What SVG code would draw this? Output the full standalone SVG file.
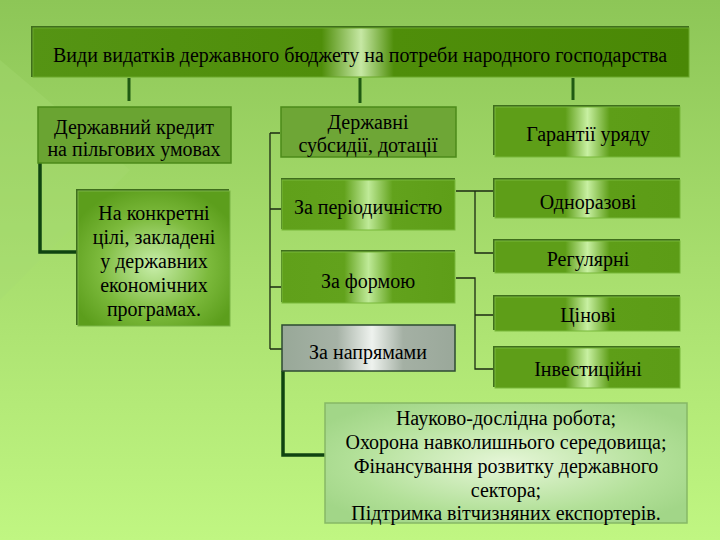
<svg xmlns="http://www.w3.org/2000/svg" width="720" height="540" viewBox="0 0 720 540" font-family="Liberation Serif">
<defs>
<linearGradient id="bg" x1="0" y1="0" x2="0" y2="1">
<stop offset="0" stop-color="#8dc657"/>
<stop offset="0.5" stop-color="#a8de6e"/>
<stop offset="1" stop-color="#c0f682"/>
</linearGradient>
<linearGradient id="gTitle" x1="0" y1="0" x2="1" y2="0">
<stop offset="0" stop-color="#559414"/>
<stop offset="0.44" stop-color="#4f8e0a"/>
<stop offset="0.5" stop-color="#c6e8a4"/>
<stop offset="0.55" stop-color="#4f8e0a"/>
<stop offset="1" stop-color="#4a8806"/>
</linearGradient>
<linearGradient id="gBox" x1="0" y1="0" x2="1" y2="0">
<stop offset="0" stop-color="#5e9e18"/>
<stop offset="0.38" stop-color="#5e9e18"/>
<stop offset="0.5" stop-color="#c8f0a2"/>
<stop offset="0.62" stop-color="#5e9e18"/>
<stop offset="1" stop-color="#5c9c16"/>
</linearGradient>
<linearGradient id="gMid" x1="0" y1="0" x2="1" y2="0">
<stop offset="0" stop-color="#60a01a"/>
<stop offset="0.36" stop-color="#62a21c"/>
<stop offset="0.5" stop-color="#bfea98"/>
<stop offset="0.64" stop-color="#62a21c"/>
<stop offset="1" stop-color="#5e9e18"/>
</linearGradient>
<linearGradient id="gGray" x1="0" y1="0" x2="1" y2="0">
<stop offset="0" stop-color="#98a898"/>
<stop offset="0.32" stop-color="#a6b2a6"/>
<stop offset="0.52" stop-color="#eef2ee"/>
<stop offset="0.7" stop-color="#a4b0a4"/>
<stop offset="1" stop-color="#9aa89a"/>
</linearGradient>
<radialGradient id="gProg" cx="0.5" cy="0.55" r="0.6">
<stop offset="0" stop-color="#c8eeaa"/>
<stop offset="0.6" stop-color="#7cba3c"/>
<stop offset="1" stop-color="#5c9e1c"/>
</radialGradient>
<radialGradient id="gDir" cx="0.5" cy="0.5" r="0.6">
<stop offset="0" stop-color="#e6f6d8"/>
<stop offset="0.7" stop-color="#b2e098"/>
<stop offset="1" stop-color="#a2d688"/>
</radialGradient>
<style>
text{font-size:20px;fill:#000;text-anchor:middle}
.sh{fill:#3f6e1c}
.thick{stroke:#0f4410;stroke-width:3.5;fill:none}
.thin{stroke:#1b2a12;stroke-width:1.3;fill:none}
.stem{stroke:#1f5a12;stroke-width:3;fill:none}
</style>
</defs>
<rect width="720" height="540" fill="url(#bg)"/>
<path d="M0 60 L130 170 L0 300 Z" fill="#a6da72" opacity="0.35"/>

<g id="connectors">
<path class="stem" d="M129 78 V101 M360 78 V103 M573 78 V100"/>
<path class="thick" d="M40 163 V252 H77"/>
<path class="thick" d="M283 371 V455 H325"/>
<path class="thin" d="M270 133 V349 M270 133 H280 M270 209 H282 M270 287 H282 M270 349 H282"/>
<path class="thin" d="M456 191 H495 M475 191 V253 H495"/>
<path class="thin" d="M456 278 H475 V369 H495 M475 315 H495"/>
</g>

<g id="title" font-family="Liberation Serif">
<rect class="sh" x="31" y="26" width="658" height="51"/>
<rect x="33" y="28" width="656" height="49" fill="url(#gTitle)" stroke="#6aa82a" stroke-width="1"/>
<text x="360" y="62" font-size="19.5" textLength="614" lengthAdjust="spacingAndGlyphs">Види видатків державного бюджету на потреби народного господарства</text>
</g>

<g id="credit" font-family="Liberation Serif">
<rect x="38" y="107" width="193" height="56" fill="#6aa432" stroke="#4c8a1a" stroke-width="1.5"/>
<text x="134" y="134">Державний кредит</text>
<text x="134" y="156">на пільгових умовах</text>
</g>

<g id="programs" font-family="Liberation Serif">
<rect class="sh" x="76" y="189" width="153" height="136"/>
<rect x="78" y="191" width="152" height="135" fill="url(#gProg)" stroke="#7ab446" stroke-width="1"/>
<text x="154" y="220">На конкретні</text>
<text x="154" y="244">цілі, закладені</text>
<text x="154" y="268">у державних</text>
<text x="154" y="292">економічних</text>
<text x="154" y="316">програмах.</text>
</g>

<g id="subsidies" font-family="Liberation Serif">
<rect x="281" y="107" width="175" height="50" fill="#6ea636" stroke="#4c8a1a" stroke-width="1.5"/>
<text x="368" y="129">Державні</text>
<text x="368" y="152">субсидії, дотації</text>
</g>

<g id="periodicity" font-family="Liberation Serif">
<rect class="sh" x="281" y="178" width="174" height="51"/>
<rect x="282" y="180" width="173" height="50" fill="url(#gMid)" stroke="#78b83a" stroke-width="1"/>
<text x="368" y="214">За періодичністю</text>
</g>

<g id="form" font-family="Liberation Serif">
<rect class="sh" x="281" y="250" width="174" height="52"/>
<rect x="282" y="252" width="173" height="51" fill="url(#gMid)" stroke="#78b83a" stroke-width="1"/>
<text x="368" y="288">За формою</text>
</g>

<g id="directions" font-family="Liberation Serif">
<rect x="282" y="325" width="173" height="46" fill="url(#gGray)" stroke="#2c4a32" stroke-width="1.5"/>
<text x="368" y="359">За напрямами</text>
</g>

<g id="directions-list" font-family="Liberation Serif">
<rect x="325" y="403" width="362" height="120" fill="url(#gDir)" stroke="#86b866" stroke-width="1.5"/>
<text x="506" y="425">Науково-дослідна робота;</text>
<text x="506" y="449">Охорона навколишнього середовища;</text>
<text x="506" y="473">Фінансування розвитку державного</text>
<text x="506" y="497">сектора;</text>
<text x="506" y="520">Підтримка вітчизняних експортерів.</text>
</g>

<g id="guarantees" font-family="Liberation Serif">
<rect class="sh" x="493" y="105" width="187" height="50"/>
<rect x="495" y="107" width="185" height="50" fill="url(#gBox)" stroke="#78b83a" stroke-width="1"/>
<text x="588" y="141">Гарантії уряду</text>
</g>

<g id="one-time" font-family="Liberation Serif">
<rect class="sh" x="493" y="178" width="187" height="39"/>
<rect x="495" y="180" width="185" height="38" fill="url(#gBox)" stroke="#78b83a" stroke-width="1"/>
<text x="588" y="209">Одноразові</text>
</g>

<g id="regular" font-family="Liberation Serif">
<rect class="sh" x="493" y="239" width="187" height="33"/>
<rect x="495" y="241" width="185" height="32" fill="url(#gBox)" stroke="#78b83a" stroke-width="1"/>
<text x="588" y="266">Регулярні</text>
</g>

<g id="price" font-family="Liberation Serif">
<rect class="sh" x="493" y="295" width="187" height="35"/>
<rect x="495" y="297" width="185" height="34" fill="url(#gBox)" stroke="#78b83a" stroke-width="1"/>
<text x="588" y="322">Цінові</text>
</g>

<g id="investment" font-family="Liberation Serif">
<rect class="sh" x="493" y="346" width="187" height="41"/>
<rect x="495" y="348" width="185" height="40" fill="url(#gBox)" stroke="#78b83a" stroke-width="1"/>
<text x="588" y="376">Інвестиційні</text>
</g>
</svg>
